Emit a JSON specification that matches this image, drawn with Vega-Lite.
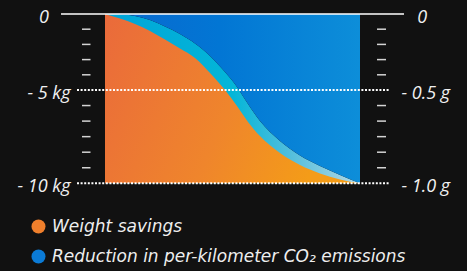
{
  "$schema": "https://vega.github.io/schema/vega-lite/v6.json",
  "width": 467,
  "height": 271,
  "autosize": {"type": "none"},
  "padding": 0,
  "background": "#111111",
  "config": {
    "view": {"stroke": null},
    "legend": {
      "orient": "none",
      "legendX": 30,
      "legendY": 218,
      "padding": 0,
      "title": null,
      "labelFont": "DejaVu Sans",
      "labelFontStyle": "italic",
      "labelFontSize": 17,
      "labelColor": "#eeeeee",
      "labelLimit": 600,
      "labelOffset": 5,
      "rowPadding": 12,
      "symbolType": "circle",
      "symbolSize": 196,
      "symbolStrokeWidth": 0,
      "symbolOpacity": 1
    },
    "axis": {
      "labelFont": "Open Sans",
      "labelFontStyle": "italic",
      "labelFontSize": 18,
      "labelColor": "#f0f0f0",
      "domain": false,
      "ticks": false,
      "tickSize": 0,
      "grid": false,
      "title": null,
      "labelOverlap": false,
      "labelBound": false,
      "labelFlush": false,
      "labelBaseline": "middle"
    }
  },
  "datasets": {
    "curves": [
      {"series": "Weight savings", "x": 0, "y": 0},
      {"series": "Weight savings", "x": 5.88, "y": -0.3},
      {"series": "Weight savings", "x": 11.76, "y": -0.66},
      {"series": "Weight savings", "x": 17.65, "y": -1.12},
      {"series": "Weight savings", "x": 23.53, "y": -1.68},
      {"series": "Weight savings", "x": 29.41, "y": -2.27},
      {"series": "Weight savings", "x": 35.29, "y": -2.89},
      {"series": "Weight savings", "x": 41.18, "y": -3.88},
      {"series": "Weight savings", "x": 47.06, "y": -5.0},
      {"series": "Weight savings", "x": 51.76, "y": -5.86},
      {"series": "Weight savings", "x": 56.08, "y": -6.71},
      {"series": "Weight savings", "x": 60.78, "y": -7.47},
      {"series": "Weight savings", "x": 68.63, "y": -8.38},
      {"series": "Weight savings", "x": 76.47, "y": -9.02},
      {"series": "Weight savings", "x": 84.31, "y": -9.47},
      {"series": "Weight savings", "x": 92.16, "y": -9.79},
      {"series": "Weight savings", "x": 100, "y": -10},
      {"series": "Reduction in per-kilometer CO₂ emissions", "x": 0, "y": 0},
      {"series": "Reduction in per-kilometer CO₂ emissions", "x": 5.88, "y": -0.02},
      {"series": "Reduction in per-kilometer CO₂ emissions", "x": 11.76, "y": -0.13},
      {"series": "Reduction in per-kilometer CO₂ emissions", "x": 17.65, "y": -0.39},
      {"series": "Reduction in per-kilometer CO₂ emissions", "x": 23.53, "y": -0.82},
      {"series": "Reduction in per-kilometer CO₂ emissions", "x": 29.41, "y": -1.32},
      {"series": "Reduction in per-kilometer CO₂ emissions", "x": 35.29, "y": -1.94},
      {"series": "Reduction in per-kilometer CO₂ emissions", "x": 41.18, "y": -2.76},
      {"series": "Reduction in per-kilometer CO₂ emissions", "x": 47.06, "y": -3.82},
      {"series": "Reduction in per-kilometer CO₂ emissions", "x": 51.76, "y": -4.8},
      {"series": "Reduction in per-kilometer CO₂ emissions", "x": 56.08, "y": -5.75},
      {"series": "Reduction in per-kilometer CO₂ emissions", "x": 60.78, "y": -6.66},
      {"series": "Reduction in per-kilometer CO₂ emissions", "x": 68.63, "y": -7.73},
      {"series": "Reduction in per-kilometer CO₂ emissions", "x": 76.47, "y": -8.51},
      {"series": "Reduction in per-kilometer CO₂ emissions", "x": 84.31, "y": -9.07},
      {"series": "Reduction in per-kilometer CO₂ emissions", "x": 92.16, "y": -9.55},
      {"series": "Reduction in per-kilometer CO₂ emissions", "x": 100, "y": -10}
    ],
    "ticks": [
      {"v": 0}, {"v": -1}, {"v": -2}, {"v": -3}, {"v": -4},
      {"v": -5.833}, {"v": -6.667}, {"v": -7.5}, {"v": -8.333}, {"v": -9.167}
    ],
    "refs": [{"v": -5}, {"v": -10}]
  },
  "resolve": {"axis": {"y": "independent"}},
  "layer": [
    {
      "data": {"name": "curves"},
      "transform": [{"filter": "datum.series != 'Weight savings'"}],
      "mark": {
        "type": "area",
        "interpolate": "monotone",
        "opacity": 1,
        "fill": {
          "gradient": "linear", "x1": 0, "y1": 0, "x2": 1, "y2": 0,
          "stops": [
            {"offset": 0, "color": "#00a4d8"},
            {"offset": 0.5, "color": "#03b6d8"},
            {"offset": 0.72, "color": "#50bedc"},
            {"offset": 1, "color": "#b4d8e4"}
          ]
        }
      },
      "encoding": {
        "x": {"field": "x", "type": "quantitative", "axis": null, "scale": {"domain": [-41.18, 141.96], "nice": false, "zero": false}},
        "y": {"field": "y", "type": "quantitative", "axis": null, "scale": {"domain": [-14.7, -10, -5, 0, 0.92], "range": [271, 183.3, 90, 14, 0], "nice": false, "zero": false}},
        "y2": {"datum": -10}
      }
    },
    {
      "data": {"name": "curves"},
      "transform": [{"filter": "datum.series == 'Weight savings'"}],
      "mark": {
        "type": "area", "interpolate": "monotone", "opacity": 1,
        "fill": {"gradient": "linear", "x1": 0, "y1": 0, "x2": 1, "y2": 0.3, "stops": [{"offset": 0, "color": "#ea6a3b"}, {"offset": 0.6, "color": "#ef852c"}, {"offset": 1, "color": "#f49c18"}]}
      },
      "encoding": {
        "x": {"field": "x", "type": "quantitative", "axis": null, "scale": {"domain": [-41.18, 141.96], "nice": false, "zero": false}},
        "y": {"field": "y", "type": "quantitative", "axis": null, "scale": {"domain": [-14.7, -10, -5, 0, 0.92], "range": [271, 183.3, 90, 14, 0], "nice": false, "zero": false}},
        "y2": {"datum": -10}
      }
    },
    {
      "data": {"name": "curves"},
      "transform": [{"filter": "datum.series != 'Weight savings'"}],
      "mark": {
        "type": "area", "interpolate": "monotone", "opacity": 1,
        "fill": {"gradient": "linear", "x1": 0, "y1": 0, "x2": 1, "y2": 0, "stops": [{"offset": 0, "color": "#0a68cf"}, {"offset": 0.45, "color": "#0276d4"}, {"offset": 1, "color": "#0d8ed9"}]}
      },
      "encoding": {
        "x": {"field": "x", "type": "quantitative", "axis": null, "scale": {"domain": [-41.18, 141.96], "nice": false, "zero": false}},
        "y": {"field": "y", "type": "quantitative", "axis": null, "scale": {"domain": [-14.7, -10, -5, 0, 0.92], "range": [271, 183.3, 90, 14, 0], "nice": false, "zero": false}},
        "y2": {"datum": 0}
      }
    },
    {
      "data": {"name": "curves"},
      "transform": [{"filter": "false"}],
      "mark": {"type": "point", "filled": true, "shape": "circle", "opacity": 1},
      "encoding": {
        "color": {
          "field": "series", "type": "nominal",
          "scale": {
            "domain": ["Weight savings", "Reduction in per-kilometer CO₂ emissions"],
            "range": ["#ef7f2c", "#0b7bd6"]
          },
          "legend": {
            "encode": {
              "symbols": {
                "update": {
                  "fill": [
                    {"test": "datum.value == 'Weight savings'", "value": {"gradient": "linear", "x1": 0, "y1": 0.2, "x2": 1, "y2": 0.8, "stops": [{"offset": 0, "color": "#ea6a3b"}, {"offset": 1, "color": "#f49c18"}]}},
                    {"value": {"gradient": "linear", "x1": 0, "y1": 0.2, "x2": 1, "y2": 0.8, "stops": [{"offset": 0, "color": "#0a6ad6"}, {"offset": 1, "color": "#1a92e2"}]}}
                  ],
                  "opacity": {"value": 1}
                }
              }
            }
          }
        }
      }
    },
    {
      "data": {"name": "refs"},
      "mark": {"type": "rule", "color": "#ffffff", "strokeWidth": 2, "strokeDash": [2, 1.6]},
      "encoding": {
        "x": {"datum": -10.98, "type": "quantitative"},
        "x2": {"datum": 111.76},
        "y": {
          "field": "v", "type": "quantitative",
          "scale": {"domain": [-14.7, -10, -5, 0, 0.92], "range": [271, 183.3, 90, 14, 0], "nice": false, "zero": false},
          "axis": {
            "orient": "left",
            "offset": -48.3,
            "labelPadding": 0,
            "labelAlign": "right",
            "labelOffset": 3,
            "values": [0],
            "labelExpr": "'0'"
          }
        }
      }
    },
    {
      "data": {"name": "ticks"},
      "transform": [{"filter": "datum.v == 0"}],
      "mark": {"type": "rule", "color": "#ffffff", "strokeWidth": 1.6},
      "encoding": {
        "x": {"datum": -17.25, "type": "quantitative"},
        "x2": {"datum": 117.25},
        "y": {
          "field": "v", "type": "quantitative",
          "scale": {"domain": [-14.7, -10, -5, 0, 0.92], "range": [271, 183.3, 90, 14, 0], "nice": false, "zero": false},
          "axis": {
            "orient": "right",
            "offset": -50.3,
            "labelPadding": 0,
            "labelAlign": "left",
            "labelOffset": 3,
            "values": [0],
            "labelExpr": "'0'"
          }
        }
      }
    },
    {
      "data": {"name": "ticks"},
      "transform": [{"filter": "datum.v != 0"}],
      "mark": {"type": "rule", "color": "#d4d4d4", "strokeWidth": 1.5},
      "encoding": {
        "x": {"datum": -9.02, "type": "quantitative"},
        "x2": {"datum": -5.69},
        "y": {
          "field": "v", "type": "quantitative",
          "scale": {"domain": [-14.7, -10, -5, 0, 0.92], "range": [271, 183.3, 90, 14, 0], "nice": false, "zero": false},
          "axis": {
            "orient": "left",
            "offset": -72,
            "labelPadding": 2,
            "labelAlign": "right",
            "labelOffset": 3,
            "values": [-5, -10],
            "labelExpr": "datum.value == -5 ? '- 5 kg' : '- 10 kg'"
          }
        }
      }
    },
    {
      "data": {"name": "ticks"},
      "transform": [{"filter": "datum.v != 0"}],
      "mark": {"type": "rule", "color": "#d4d4d4", "strokeWidth": 1.5},
      "encoding": {
        "x": {"datum": 106.67, "type": "quantitative"},
        "x2": {"datum": 110.2},
        "y": {
          "field": "v", "type": "quantitative",
          "scale": {"domain": [-14.7, -10, -5, 0, 0.92], "range": [271, 183.3, 90, 14, 0], "nice": false, "zero": false},
          "axis": {
            "orient": "right",
            "offset": -66,
            "labelPadding": 0,
            "labelAlign": "left",
            "labelOffset": 3,
            "values": [-5, -10],
            "labelExpr": "datum.value == -5 ? '- 0.5 g' : '- 1.0 g'"
          }
        }
      }
    }
  ]
}
